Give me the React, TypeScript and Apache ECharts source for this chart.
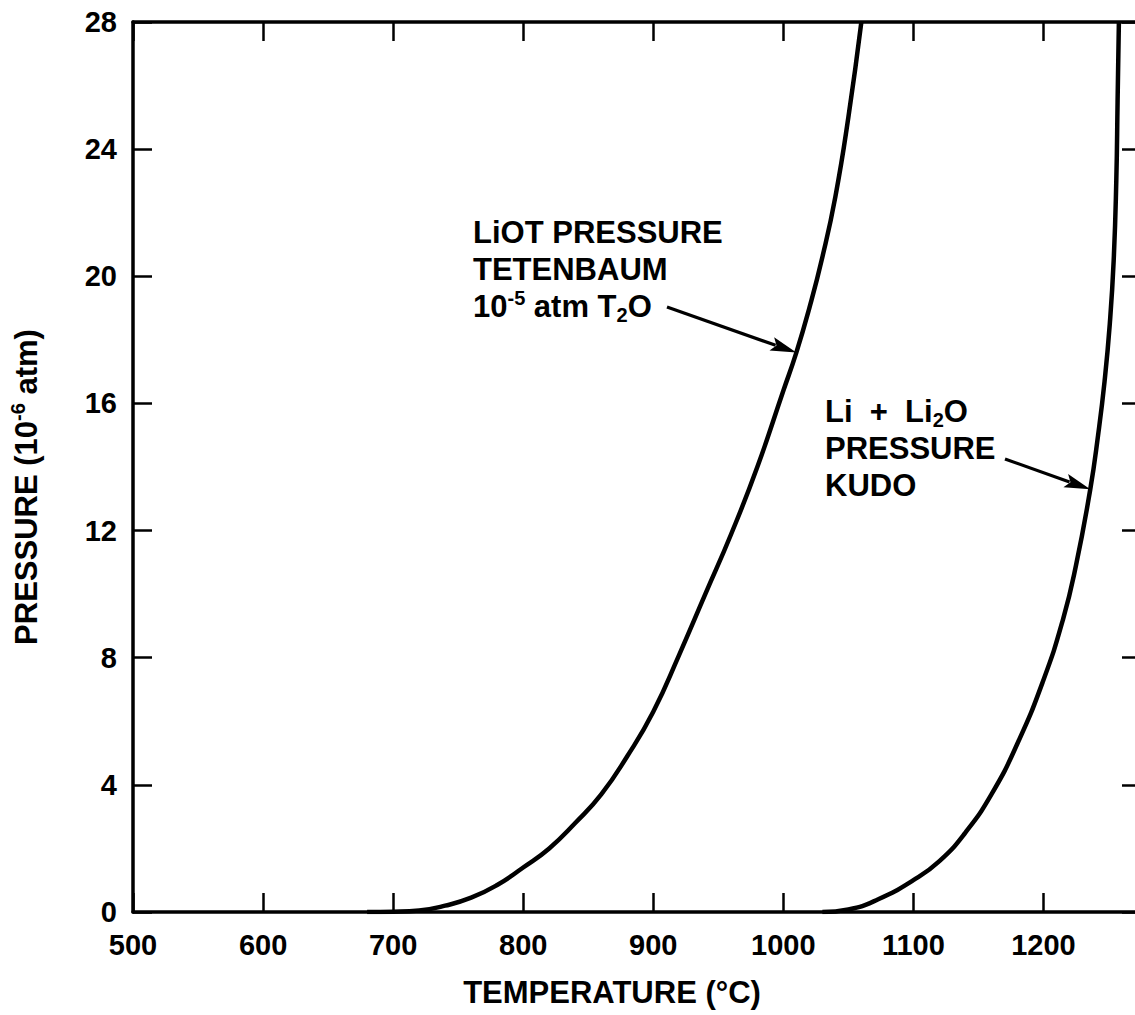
import React, { useEffect, useRef } from "react";
import * as echarts from "echarts";

// Temperature (°C) and pressure (10^-6 atm)
const liotTemps = [680, 700, 720, 740, 760, 780, 800, 820, 840, 860, 880, 900, 920, 940, 960, 980, 1000, 1010, 1020, 1030, 1040, 1050, 1060];
const liotPress = [0, 0.01, 0.05, 0.2, 0.45, 0.85, 1.4, 2.0, 2.8, 3.7, 4.9, 6.3, 8.1, 10.0, 11.9, 14.0, 16.4, 17.6, 19.0, 20.6, 22.5, 25.0, 28.0];

const kudoTemps = [1030, 1050, 1073, 1100, 1120, 1140, 1160, 1180, 1200, 1215, 1225, 1236, 1242, 1247, 1251, 1254, 1256, 1257, 1258];
const kudoPress = [0, 0.08, 0.4, 1.0, 1.6, 2.5, 3.7, 5.3, 7.3, 9.2, 10.9, 13.3, 15.0, 16.7, 18.5, 20.5, 23.0, 25.5, 28.0];

const xMin = 500;
const xMax = 1275;
const xStep = 100;
const yMin = 0;
const yMax = 28;
const yStep = 4;

const arrow1Tip = [1010, 17.6];
const arrow2Tip = [1236, 13.3];

const FONT = "'Liberation Sans', Arial, Helvetica, sans-serif";

function arrowGraphics(tail: number[], tip: number[]) {
  const dx = tip[0] - tail[0];
  const dy = tip[1] - tail[1];
  const len = Math.sqrt(dx * dx + dy * dy);
  const ux = dx / len;
  const uy = dy / len;
  const headLen = 26;
  const headW = 7;
  const bx = tip[0] - ux * headLen;
  const by = tip[1] - uy * headLen;
  const nx = -uy;
  const ny = ux;
  return [
    {
      type: "line",
      shape: { x1: tail[0], y1: tail[1], x2: bx + ux * 4, y2: by + uy * 4 },
      style: { stroke: "#000", lineWidth: 3.2 },
      z: 100,
    },
    {
      type: "polygon",
      shape: {
        points: [
          [tip[0], tip[1]],
          [bx + nx * headW, by + ny * headW],
          [bx + ux * 5, by + uy * 5],
          [bx - nx * headW, by - ny * headW],
        ],
      },
      style: { fill: "#000" },
      z: 100,
    },
  ];
}

const richBase = {
  a: { fontSize: 31, fontWeight: "bold", fontFamily: FONT, color: "#000", lineHeight: 37 },
  sup: { fontSize: 20, fontWeight: "bold", fontFamily: FONT, color: "#000", lineHeight: 19, verticalAlign: "top" },
  sub: { fontSize: 20, fontWeight: "bold", fontFamily: FONT, color: "#000", lineHeight: 19, verticalAlign: "bottom" },
};

export default function App() {
  const ref = useRef<HTMLDivElement>(null);
  useEffect(() => {
    if (!ref.current) return;
    const chart = echarts.init(ref.current, null, { renderer: "svg" });
    const axisLineStyle = { color: "#000", width: 3.5 };
    const tickStyle = { color: "#000", width: 2.5 };
    const labelStyle = {
      fontSize: 29,
      fontWeight: "bold",
      fontFamily: FONT,
      color: "#000",
      formatter: (v: number) => String(v),
    };
    const option: any = {
      animation: false,
      backgroundColor: "#fff",
      grid: { left: 133, top: 22, right: 4, bottom: 103, containLabel: false },
      xAxis: [
        {
          type: "value",
          min: xMin,
          max: xMax,
          interval: xStep,
          position: "bottom",
          axisLine: { show: true, onZero: false, lineStyle: axisLineStyle },
          axisTick: { show: true, inside: true, length: 19, lineStyle: tickStyle },
          axisLabel: { show: true, margin: 18, showMaxLabel: false, ...labelStyle },
          splitLine: { show: false },
        },
        {
          type: "value",
          min: xMin,
          max: xMax,
          interval: xStep,
          position: "top",
          axisLine: { show: true, onZero: false, lineStyle: axisLineStyle },
          axisTick: { show: true, inside: true, length: 19, lineStyle: tickStyle },
          axisLabel: { show: false },
          splitLine: { show: false },
        },
      ],
      yAxis: [
        {
          type: "value",
          min: yMin,
          max: yMax,
          interval: yStep,
          position: "left",
          axisLine: { show: true, onZero: false, lineStyle: axisLineStyle },
          axisTick: { show: true, inside: true, length: 19, lineStyle: tickStyle },
          axisLabel: { show: true, margin: 16, ...labelStyle },
          splitLine: { show: false },
        },
        {
          type: "value",
          min: yMin,
          max: yMax,
          interval: yStep,
          position: "right",
          axisLine: { show: true, onZero: false, lineStyle: axisLineStyle },
          axisTick: { show: true, inside: true, length: 19, lineStyle: tickStyle },
          axisLabel: { show: false },
          splitLine: { show: false },
        },
      ],
      series: [
        {
          name: "LiOT pressure (Tetenbaum)",
          type: "line",
          xAxisIndex: 0,
          yAxisIndex: 0,
          data: liotTemps.map((t, i) => [t, liotPress[i]]),
          showSymbol: false,
          smooth: 0.5,
          lineStyle: { color: "#000", width: 4.5 },
          clip: true,
          z: 5,
        },
        {
          name: "Li + Li2O pressure (Kudo)",
          type: "line",
          xAxisIndex: 0,
          yAxisIndex: 0,
          data: kudoTemps.map((t, i) => [t, kudoPress[i]]),
          showSymbol: false,
          smooth: 0.5,
          lineStyle: { color: "#000", width: 4.5 },
          clip: true,
          z: 5,
        },
      ],
    };
    chart.setOption(option);

    const tip1 = chart.convertToPixel({ xAxisIndex: 0, yAxisIndex: 0 }, arrow1Tip) as number[];
    const tip2 = chart.convertToPixel({ xAxisIndex: 0, yAxisIndex: 0 }, arrow2Tip) as number[];

    const graphic: any[] = [
      {
        type: "text",
        x: 26,
        y: 487,
        rotation: Math.PI / 2,
        style: {
          text: "{a|PRESSURE (10}{sup|-6}{a| atm)}",
          rich: richBase,
          align: "center",
          verticalAlign: "middle",
        },
      },
      {
        type: "text",
        x: 612,
        y: 992,
        style: {
          text: "TEMPERATURE (°C)",
          fontSize: 31,
          fontWeight: "bold",
          fontFamily: FONT,
          fill: "#000",
          align: "center",
          verticalAlign: "middle",
        },
      },
      {
        type: "text",
        left: 473,
        top: 217,
        style: {
          text: "{a|LiOT PRESSURE}\n{a|TETENBAUM}\n{a|10}{sup|-5}{a| atm T}{sub|2}{a|O}",
          rich: richBase,
          align: "left",
          verticalAlign: "top",
        },
      },
      {
        type: "text",
        left: 825,
        top: 396,
        style: {
          text: "{a|Li  +  Li}{sub|2}{a|O}\n{a|PRESSURE}\n{a|KUDO}",
          rich: richBase,
          align: "left",
          verticalAlign: "top",
        },
      },
      ...arrowGraphics([667, 307], tip1),
      ...arrowGraphics([1005, 459], tip2),
    ];
    chart.setOption({ graphic });

    return () => {
      chart.dispose();
    };
  }, []);

  return (
    <div
      ref={ref}
      style={{ position: "fixed", left: 0, top: 0, width: 1145, height: 1015, background: "#fff" }}
    />
  );
}
